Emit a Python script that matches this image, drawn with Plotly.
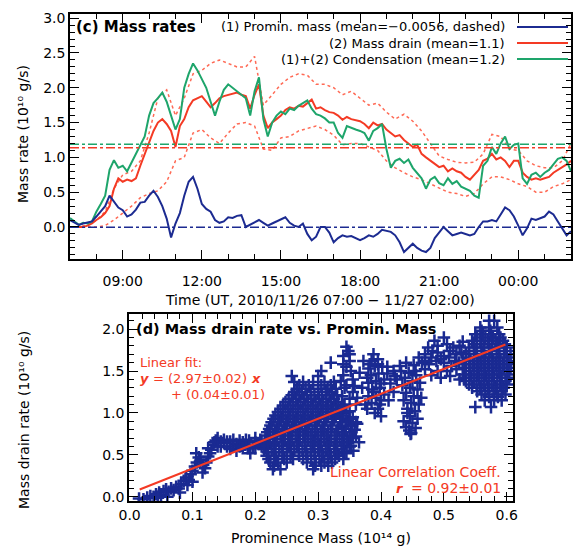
import plotly.graph_objects as go
import pandas as pd

W, H = 576, 548

# ---------------- data: panel (c) mass rates (10^10 g/s), 10-min samples 07:00 -> 02:00
t0, t1 = "2010-11-26 07:00", "2010-11-27 02:00"
green = [0.13, 0.08, 0.03, 0.06, 0.05, 0.08,
         0.22, 0.33, 0.45, 0.82, 0.96, 0.85,
         0.88, 0.80, 0.93, 1.05, 1.18, 1.30,
         1.60, 1.78, 1.85, 1.93, 1.80, 1.60,
         1.40, 1.55, 2.00, 2.20, 2.35, 2.25,
         2.12, 2.00, 1.80, 1.60, 1.80, 1.97,
         2.05, 2.00, 1.95, 1.90, 1.85, 1.60,
         1.95, 2.15, 1.55, 1.30, 1.50, 1.60,
         1.66, 1.62, 1.70, 1.68, 1.74, 1.78,
         1.82, 1.70, 1.62, 1.60, 1.56, 1.50,
         1.50, 1.35, 1.28, 1.45, 1.42, 1.40,
         1.38, 1.35, 1.24, 1.38, 1.42, 1.48,
         1.12, 0.85, 0.95, 0.98, 0.92, 0.97,
         0.85, 0.78, 0.70, 0.55, 0.68, 0.72,
         0.63, 0.60, 0.70, 0.62, 0.66, 0.58,
         0.55, 0.52, 0.45, 0.42, 0.88, 0.95,
         1.15, 1.05, 1.20, 1.30, 1.12, 1.18,
         1.20, 0.70, 0.62, 0.75, 0.78, 0.72,
         0.78, 0.82, 0.90, 0.98, 1.00, 0.95,
         0.80]
red = [0.00, 0.00, 0.00, 0.00, 0.02, 0.05,
       0.10, 0.14, 0.20, 0.30, 0.55, 0.70,
       0.65, 0.68, 0.66, 0.70, 0.88, 1.05,
       1.20, 1.38, 1.50, 1.55, 1.48, 1.38,
       1.15, 1.45, 1.55, 1.72, 1.82, 1.85,
       1.88, 1.80, 1.72, 1.78, 1.85, 1.88,
       1.90, 1.92, 1.93, 1.90, 1.88, 1.70,
       1.90, 2.05, 1.60, 1.42, 1.50, 1.55,
       1.60, 1.68, 1.72, 1.70, 1.74, 1.73,
       1.78, 1.83, 1.70, 1.72, 1.68, 1.65,
       1.64, 1.60, 1.54, 1.58, 1.55, 1.54,
       1.52, 1.48, 1.42, 1.50, 1.46, 1.48,
       1.40, 1.35, 1.30, 1.32, 1.25, 1.20,
       1.15, 1.18, 1.05, 1.00, 0.95, 0.90,
       0.86, 0.88, 0.80, 0.84, 0.80, 0.78,
       0.72, 0.68, 0.75, 0.82, 0.95, 0.98,
       1.05, 0.97, 1.00, 0.95, 0.86, 0.95,
       0.95, 0.78, 0.72, 0.68, 0.70, 0.68,
       0.70, 0.72, 0.78, 0.82, 0.85, 0.90,
       0.95]
blue = [0.10, 0.06, 0.03, 0.05, 0.06, 0.08,
        0.15, 0.22, 0.30, 0.45, 0.37, 0.28,
        0.24, 0.15, 0.18, 0.25, 0.35, 0.36,
        0.45, 0.52, 0.43, 0.30, 0.12, -0.15,
        0.05, 0.20, 0.45, 0.65, 0.72, 0.55,
        0.33, 0.26, 0.22, 0.10, 0.06, 0.08,
        0.14, 0.13, 0.16, 0.17, 0.00, 0.03,
        0.06, 0.10, 0.06, 0.02, 0.05, 0.08,
        0.12, 0.14, 0.06, 0.02, 0.00, 0.05,
        -0.10, -0.19, -0.14, 0.00, 0.00, -0.08,
        -0.22, -0.16, -0.12, -0.14, -0.13, -0.16,
        -0.19, -0.16, -0.12, -0.14, -0.10, -0.04,
        -0.05, -0.07, -0.12, -0.22, -0.36, -0.30,
        -0.24, -0.30, -0.34, -0.36, -0.30, -0.16,
        -0.08, 0.00, -0.06, -0.12, -0.10, -0.08,
        -0.10, -0.12, -0.10, 0.00, 0.08, 0.08,
        0.10, 0.08, 0.18, 0.28, 0.24, 0.15,
        0.02, -0.12, -0.02, 0.12, 0.10, 0.12,
        0.15, 0.22, 0.18, 0.08, -0.02, -0.12,
        -0.06]
# mass-drain uncertainty envelope, 20-min samples
drain_upper = [0.00, 0.00, 0.03, 0.10, 0.22, 0.55, 0.75, 0.80, 0.95,
               1.35, 1.85, 1.97, 1.60, 1.85, 2.20, 2.25, 2.35, 2.40,
               2.35, 2.30, 2.30, 2.45, 1.75, 1.90, 2.05, 2.15, 2.20,
               2.18, 2.05, 2.05, 2.00, 1.90, 1.95, 1.85, 1.75, 1.78,
               1.65, 1.55, 1.62, 1.52, 1.38, 1.20, 1.02, 0.97, 0.93,
               0.92, 0.93, 1.05, 1.33, 1.30, 1.12, 1.10, 0.95, 0.88,
               0.85, 0.85, 0.95, 1.20]
drain_lower = [0.00, 0.00, 0.00, 0.00, 0.02, 0.10, 0.20, 0.30, 0.42,
               0.48, 0.52, 0.65, 0.95, 1.00, 1.35, 1.40, 1.28, 1.20,
               1.35, 1.48, 1.50, 1.45, 1.12, 1.10, 1.28, 1.30, 1.38,
               1.42, 1.45, 1.40, 1.32, 1.18, 1.20, 1.20, 1.15, 1.10,
               0.95, 0.85, 0.78, 0.72, 0.68, 0.62, 0.57, 0.50, 0.48,
               0.44, 0.48, 0.62, 0.72, 0.72, 0.68, 0.62, 0.58, 0.50,
               0.50, 0.58, 0.62, 0.68]
means = {"blue": -0.0056, "red": 1.14, "green": 1.19}

# ---------------- data: panel (d) mass drain rate vs prominence mass
rise_pts = [(0.015, -0.02), (0.022, -0.03), (0.028, -0.01), (0.033, 0.01), (0.038, 0.0),
            (0.042, 0.03), (0.047, 0.05), (0.05, 0.02), (0.054, 0.07), (0.058, 0.09),
            (0.062, 0.06), (0.066, 0.10), (0.07, 0.08), (0.074, 0.12), (0.078, 0.10),
            (0.082, 0.15), (0.086, 0.19), (0.09, 0.23), (0.094, 0.20), (0.097, 0.27),
            (0.10, 0.31), (0.104, 0.36), (0.107, 0.41), (0.11, 0.47), (0.106, 0.52),
            (0.113, 0.44), (0.117, 0.38), (0.12, 0.34), (0.116, 0.29), (0.122, 0.41),
            (0.125, 0.48), (0.128, 0.52), (0.06, 0.0), (0.045, -0.01), (0.08, 0.05),
            (0.092, 0.14), (0.10, 0.18)]
band_pts = [(0.13, 0.56), (0.133, 0.62), (0.137, 0.67), (0.14, 0.70), (0.135, 0.65),
            (0.145, 0.66), (0.15, 0.64), (0.155, 0.60), (0.16, 0.57), (0.165, 0.60),
            (0.17, 0.63), (0.175, 0.67), (0.18, 0.65), (0.184, 0.62), (0.188, 0.58),
            (0.192, 0.52), (0.196, 0.60), (0.20, 0.65), (0.205, 0.63), (0.21, 0.60),
            (0.215, 0.66), (0.22, 0.64), (0.15, 0.68), (0.145, 0.60), (0.17, 0.55),
            (0.185, 0.68), (0.20, 0.58), (0.208, 0.68), (0.19, 0.67), (0.16, 0.66),
            (0.14, 0.60), (0.155, 0.66), (0.165, 0.68), (0.175, 0.60), (0.19, 0.60),
            (0.20, 0.70), (0.21, 0.66), (0.217, 0.58), (0.125, 0.58), (0.18, 0.58)]
blob_rows = [(0.33, [0.228, 0.24, 0.292]),
             (0.37, [0.23, 0.295, 0.305, 0.316]),
             (0.41, [0.224, 0.236, 0.25, 0.282, 0.296, 0.31, 0.322]),
             (0.45, [0.221, 0.233, 0.246, 0.26, 0.276, 0.289, 0.302, 0.315, 0.327]),
             (0.49, [0.218, 0.23, 0.243, 0.256, 0.27, 0.283, 0.295, 0.308, 0.32, 0.333]),
             (0.53, [0.22, 0.232, 0.244, 0.257, 0.269, 0.281, 0.294, 0.306, 0.318, 0.33, 0.342]),
             (0.57, [0.214, 0.226, 0.238, 0.25, 0.262, 0.275, 0.288, 0.30, 0.312, 0.325, 0.337]),
             (0.61, [0.218, 0.23, 0.242, 0.254, 0.266, 0.279, 0.291, 0.303, 0.316, 0.328, 0.34, 0.352]),
             (0.65, [0.22, 0.232, 0.244, 0.256, 0.268, 0.28, 0.293, 0.305, 0.318, 0.33, 0.342]),
             (0.69, [0.223, 0.235, 0.247, 0.259, 0.271, 0.284, 0.296, 0.309, 0.321, 0.334, 0.346]),
             (0.73, [0.216, 0.228, 0.24, 0.252, 0.264, 0.276, 0.288, 0.30, 0.313, 0.326, 0.338, 0.35]),
             (0.77, [0.219, 0.231, 0.243, 0.255, 0.267, 0.279, 0.291, 0.304, 0.316, 0.329, 0.341, 0.353]),
             (0.81, [0.222, 0.234, 0.246, 0.258, 0.27, 0.282, 0.295, 0.307, 0.32, 0.332, 0.344]),
             (0.85, [0.224, 0.236, 0.248, 0.26, 0.272, 0.284, 0.296, 0.309, 0.322, 0.338, 0.354]),
             (0.89, [0.226, 0.238, 0.25, 0.262, 0.274, 0.286, 0.298, 0.31, 0.322, 0.335, 0.348, 0.36]),
             (0.93, [0.229, 0.241, 0.253, 0.265, 0.277, 0.289, 0.301, 0.313, 0.325, 0.337, 0.35]),
             (0.97, [0.232, 0.244, 0.256, 0.268, 0.28, 0.292, 0.304, 0.316, 0.328, 0.34]),
             (1.01, [0.236, 0.248, 0.26, 0.272, 0.284, 0.296, 0.308, 0.32, 0.332, 0.345]),
             (1.05, [0.24, 0.252, 0.264, 0.276, 0.288, 0.30, 0.312, 0.324, 0.336]),
             (1.09, [0.244, 0.256, 0.268, 0.28, 0.292, 0.304, 0.316, 0.328, 0.34]),
             (1.13, [0.248, 0.26, 0.272, 0.284, 0.296, 0.308, 0.32, 0.332]),
             (1.17, [0.253, 0.265, 0.277, 0.289, 0.301, 0.313, 0.325]),
             (1.21, [0.258, 0.27, 0.282, 0.294, 0.306, 0.318, 0.33]),
             (1.25, [0.262, 0.274, 0.288, 0.30, 0.312, 0.322]),
             (1.29, [0.266, 0.28, 0.30, 0.315, 0.328]),
             (1.33, [0.27, 0.285, 0.305, 0.32]),
             (1.37, [0.262, 0.276, 0.292, 0.31, 0.325]),
             (1.44, [0.258, 0.30])]
spike_pts = [(0.34, 1.45), (0.352, 1.50), (0.345, 1.55), (0.35, 1.62), (0.34, 1.68),
             (0.348, 1.74), (0.345, 1.79), (0.355, 1.40), (0.345, 1.33), (0.355, 1.25),
             (0.35, 1.17), (0.36, 1.10), (0.35, 1.02), (0.355, 0.95), (0.362, 0.87),
             (0.358, 0.80), (0.35, 0.60), (0.345, 0.52), (0.34, 0.45), (0.36, 0.72),
             (0.365, 0.65), (0.32, 1.60), (0.305, 1.50), (0.436, 0.90), (0.447, 0.75),
             (0.44, 0.83), (0.445, 0.79), (0.338, 1.20), (0.342, 1.10), (0.34, 1.00),
             (0.345, 0.90), (0.352, 0.85), (0.358, 1.32), (0.362, 1.18), (0.355, 0.70),
             (0.348, 0.65), (0.356, 0.55), (0.34, 1.58), (0.336, 1.38), (0.35, 1.70),
             (0.342, 1.30)]
mid_pts = [(0.378, 1.05), (0.39, 1.00), (0.40, 0.96), (0.385, 1.12), (0.398, 1.10),
           (0.38, 1.20), (0.392, 1.18), (0.405, 1.22), (0.386, 1.28), (0.398, 1.30),
           (0.38, 1.36), (0.392, 1.38), (0.405, 1.40), (0.384, 1.45), (0.396, 1.47),
           (0.38, 1.53), (0.39, 1.56), (0.402, 1.55), (0.385, 1.62), (0.395, 1.64),
           (0.388, 1.70), (0.372, 1.62), (0.37, 1.30), (0.366, 1.48),
           (0.375, 1.10), (0.395, 1.05), (0.388, 1.25), (0.378, 1.42), (0.40, 1.35),
           (0.395, 1.58), (0.382, 1.58), (0.40, 1.15),
           (0.41, 1.55), (0.42, 1.50), (0.43, 1.56), (0.44, 1.60), (0.452, 1.57),
           (0.465, 1.60), (0.476, 1.58), (0.488, 1.62), (0.50, 1.60), (0.512, 1.56),
           (0.524, 1.60), (0.41, 1.47), (0.422, 1.44), (0.455, 1.50), (0.47, 1.52),
           (0.49, 1.50), (0.505, 1.50), (0.52, 1.52), (0.415, 1.35), (0.42, 1.25),
           (0.412, 1.15), (0.425, 1.40),
           (0.432, 1.50), (0.444, 1.48), (0.456, 1.45), (0.438, 1.42), (0.45, 1.38),
           (0.462, 1.36), (0.434, 1.33), (0.446, 1.30), (0.458, 1.28), (0.44, 1.24),
           (0.452, 1.20), (0.464, 1.18), (0.436, 1.15), (0.448, 1.12), (0.46, 1.10),
           (0.442, 1.05), (0.454, 1.02), (0.446, 0.96), (0.458, 0.93), (0.45, 0.88),
           (0.442, 1.00), (0.455, 0.82), (0.448, 0.76),
           (0.47, 1.70), (0.48, 1.66), (0.49, 1.72), (0.50, 1.68), (0.51, 1.74),
           (0.52, 1.70), (0.475, 1.78), (0.49, 1.80), (0.505, 1.82), (0.515, 1.78),
           (0.525, 1.80), (0.48, 1.45), (0.495, 1.42), (0.51, 1.44), (0.525, 1.40),
           (0.50, 1.90), (0.485, 1.86), (0.47, 1.62), (0.482, 1.74), (0.495, 1.64),
           (0.508, 1.66), (0.518, 1.62), (0.528, 1.72), (0.46, 1.66), (0.53, 1.85)]
right_rows = [(1.07, [0.55, 0.575]),
              (1.15, [0.565, 0.58, 0.592]),
              (1.19, [0.572, 0.586]),
              (1.22, [0.56, 0.572, 0.585, 0.598]),
              (1.26, [0.553, 0.566, 0.579, 0.592]),
              (1.30, [0.545, 0.557, 0.57, 0.582, 0.595]),
              (1.34, [0.54, 0.552, 0.564, 0.576, 0.589, 0.60]),
              (1.38, [0.535, 0.548, 0.56, 0.572, 0.585, 0.598]),
              (1.42, [0.532, 0.544, 0.556, 0.568, 0.58, 0.592, 0.604]),
              (1.46, [0.53, 0.542, 0.554, 0.566, 0.578, 0.59, 0.602]),
              (1.50, [0.54, 0.552, 0.564, 0.576, 0.588, 0.60]),
              (1.54, [0.535, 0.548, 0.56, 0.572, 0.584, 0.596, 0.606]),
              (1.58, [0.534, 0.546, 0.558, 0.57, 0.582, 0.594, 0.606]),
              (1.62, [0.53, 0.542, 0.554, 0.566, 0.578, 0.59, 0.602]),
              (1.66, [0.54, 0.552, 0.564, 0.576, 0.588, 0.60]),
              (1.70, [0.535, 0.548, 0.56, 0.572, 0.584, 0.596, 0.606]),
              (1.74, [0.54, 0.552, 0.564, 0.576, 0.588, 0.60]),
              (1.78, [0.54, 0.552, 0.564, 0.576, 0.588, 0.60]),
              (1.82, [0.548, 0.56, 0.572, 0.585, 0.597]),
              (1.86, [0.545, 0.558, 0.57, 0.582, 0.594]),
              (1.90, [0.553, 0.566, 0.578, 0.59]),
              (1.94, [0.55, 0.562, 0.575, 0.588]),
              (1.98, [0.56, 0.574]),
              (2.02, [0.558, 0.572, 0.585]),
              (2.10, [0.572, 0.58])]
fit_slope, fit_icept = 2.97, 0.04
fit_x = [0.016, 0.598]

# ---------------- build
pts = rise_pts + band_pts + spike_pts + mid_pts
for v, ms in blob_rows + right_rows:
    pts += [(m, v) for m in ms]
sx = [p[0] for p in pts]
sy = [p[1] for p in pts]

t10 = pd.date_range(t0, t1, freq="10min")
t20 = pd.date_range(t0, t1, freq="20min")

BLUE, RED, GREEN = "#1c2b91", "#f43a24", "#1ea56b"
FONT = "DejaVu Sans"

fig = go.Figure()
for vals in (drain_upper, drain_lower):
    fig.add_trace(go.Scatter(x=t20, y=vals, mode="lines",
                             line=dict(color="#ff6a55", width=1.5, dash="dot"),
                             xaxis="x", yaxis="y"))
fig.add_trace(go.Scatter(x=t10, y=red, mode="lines", line=dict(color=RED, width=2), xaxis="x", yaxis="y"))
fig.add_trace(go.Scatter(x=t10, y=green, mode="lines", line=dict(color=GREEN, width=2), xaxis="x", yaxis="y"))
fig.add_trace(go.Scatter(x=t10, y=blue, mode="lines", line=dict(color=BLUE, width=2), xaxis="x", yaxis="y"))
for key, col in (("blue", BLUE), ("red", RED), ("green", GREEN)):
    fig.add_trace(go.Scatter(x=[t10[0], t10[-1]], y=[means[key]] * 2, mode="lines",
                             line=dict(color=col, width=1.5, dash="dashdot"), xaxis="x", yaxis="y"))

fig.add_trace(go.Scatter(x=sx, y=sy, mode="markers", xaxis="x2", yaxis="y2",
                         marker=dict(symbol="cross-thin", size=9,
                                     line=dict(width=2.5, color="#1a2a92"))))
fig.add_trace(go.Scatter(x=fit_x, y=[fit_slope * x + fit_icept for x in fit_x], mode="lines",
                         line=dict(color=RED, width=2), xaxis="x2", yaxis="y2"))


def px(x):
    return x / W


def py(y):
    return 1 - y / H


axcommon = dict(showline=True, linecolor="black", linewidth=1.5, mirror="ticks",
                ticks="inside", tickcolor="black", tickwidth=1.2, showgrid=False,
                zeroline=False, automargin=False,
                tickfont=dict(family=FONT, size=14, color="black"))

fig.update_layout(
    width=W, height=H, margin=dict(l=0, r=0, t=0, b=0, autoexpand=False),
    paper_bgcolor="white", plot_bgcolor="white", showlegend=False,
    font=dict(family=FONT, color="black"),
    xaxis=dict(domain=[px(70), px(571)], anchor="y", type="date",
               range=[t0, t1], tick0="2010-11-26 09:00", dtick=3 * 3600000,
               tickformat="%H:%M", ticklen=9, ticklabelstandoff=8,
               minor=dict(ticks="inside", ticklen=5, dtick=3600000,
                          tick0="2010-11-26 07:00", tickcolor="black", tickwidth=1.2),
               **axcommon),
    yaxis=dict(domain=[py(259), py(14)], anchor="x", range=[-0.46, 3.06],
               tick0=0, dtick=0.5, tickformat=".1f", ticklen=9,
               minor=dict(ticks="inside", ticklen=5, dtick=0.1, tickcolor="black", tickwidth=1.2),
               **axcommon),
    xaxis2=dict(domain=[px(129), px(513)], anchor="y2", range=[-0.001, 0.61],
                tick0=0, dtick=0.1, tickformat=".1f", ticklen=9,
                minor=dict(ticks="inside", ticklen=5, dtick=0.02, tickcolor="black", tickwidth=1.2),
                **axcommon),
    yaxis2=dict(domain=[py(501), py(314)], anchor="x2", range=[-0.05, 2.18],
                tick0=0, dtick=0.5, tickformat=".1f", ticklen=9,
                minor=dict(ticks="inside", ticklen=5, dtick=0.1, tickcolor="black", tickwidth=1.2),
                **axcommon),
)


def ann(text, x, y, size=13, color="black", xanchor="center", angle=0,
        weight="normal", style="normal"):
    fig.add_annotation(text=text, x=px(x), y=py(y),
                       xref="paper", yref="paper", showarrow=False, xanchor=xanchor,
                       yanchor="middle", textangle=angle, borderpad=0,
                       font=dict(family=FONT, size=size, color=color,
                                 weight=weight, style=style))


# panel (c) texts
ann("(c) Mass rates", 75, 27, size=15, xanchor="left", weight="bold")
leg = [("(1) Promin. mass (mean=\u22120.0056, dashed)", BLUE, 27),
       ("(2) Mass drain (mean=1.1)", RED, 43),
       ("(1)+(2) Condensation (mean=1.2)", GREEN, 59)]
for txt, col, yy in leg:
    ann(txt, 506, yy, size=13, xanchor="right")
    fig.add_shape(type="line", xref="paper", yref="paper", x0=px(517), x1=px(568),
                  y0=py(yy), y1=py(yy), line=dict(color=col, width=2))
ann("Mass rate (10\u00b9\u2070 g/s)", 23, 134, size=14, angle=-90)
ann("Time (UT, 2010/11/26 07:00 \u2212 11/27 02:00)", 320, 300, size=14)

# panel (d) texts
ann("(d) Mass drain rate vs. Promin. Mass", 135, 329, size=14.5, xanchor="left", weight="bold")
ann("Linear fit:", 139, 362, size=13, color=RED, xanchor="left")
ann("y", 139, 378, size=13, color=RED, xanchor="left", weight="bold", style="italic")
ann("= (2.97\u00b10.02)", 152, 378, size=13, color=RED, xanchor="left")
ann("x", 250, 378, size=13, color=RED, xanchor="left", weight="bold", style="italic")
ann("+ (0.04\u00b10.01)", 170, 394, size=13, color=RED, xanchor="left")
ann("Linear Correlation Coeff.", 502, 472, size=14, color=RED, xanchor="right")
ann("r", 395, 488, size=13, color=RED, xanchor="left", weight="bold", style="italic")
ann("= 0.92\u00b10.01", 502, 488, size=14, color=RED, xanchor="right")
ann("Mass drain rate (10\u00b9\u2070 g/s)", 24, 420, size=14, angle=-90)
ann("Prominence Mass (10\u00b9\u2074 g)", 321, 538, size=14)

fig.write_html("out.html")
